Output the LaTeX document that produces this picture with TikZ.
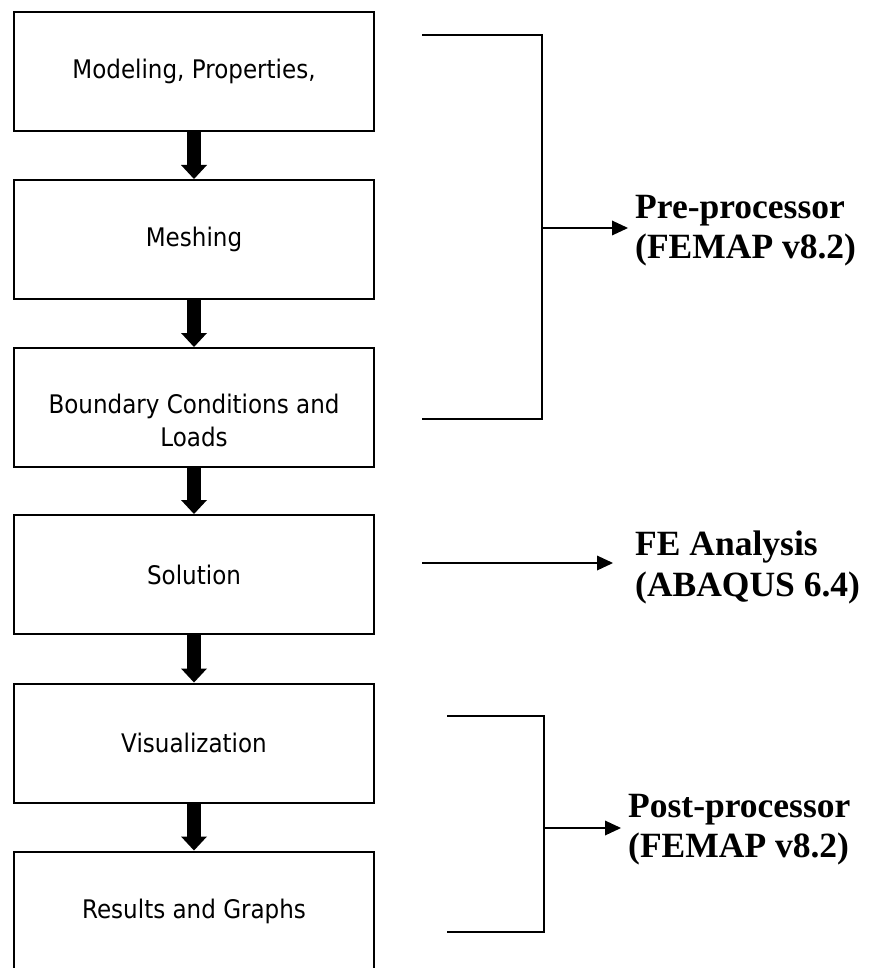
\documentclass[tikz,border=0pt]{standalone}
\usepackage{fontspec}
\setmainfont{Liberation Serif}
\newfontfamily\boxfont{DejaVu Sans}[FakeStretch=0.9]
\usetikzlibrary{arrows.meta}
\begin{document}
\begin{tikzpicture}[x=1pt,y=-1pt,
  stepbox/.style={draw, line width=2pt, minimum width=360pt, minimum height=119pt,
    inner sep=0pt, font=\boxfont\fontsize{25.6}{33}\selectfont, align=center},
  boxtext/.style={inner sep=0pt, font=\boxfont\fontsize{25.6}{33}\selectfont, align=center},
  fat/.style={line width=14pt, -{Triangle[length=14pt,width=26pt,line width=0pt]}},
  thinline/.style={line width=1.5pt},
  thinarrow/.style={line width=1.5pt, -{Triangle[length=16pt,width=15pt,line width=0pt]}},
  sidetext/.style={font=\bfseries\fontsize{35.5}{40.3}\selectfont, align=left,
    anchor=north west, inner xsep=7pt, inner ysep=0pt}]
\useasboundingbox (0,0) rectangle (868,968);
\clip (0,0) rectangle (868,968);

% boxes
\node[stepbox] (b1) at (194,71.5) {Modeling, Properties,};
\node[stepbox] (b2) at (194,239.5) {Meshing};
\node[stepbox] (b3) at (194,407.5) {};
\node[boxtext, anchor=north] (t3) at (194,393.5) {Boundary Conditions and\\Loads};
\node[stepbox] (b4) at (194,574.5) {Solution};
\node[stepbox] (b5) at (194,743) {Visualization};
\node[stepbox] (b6) at (194,911) {Results and Graphs};

% fat arrows
\draw[fat] (b1.south) -- (b2.north);
\draw[fat] (b2.south) -- (b3.north);
\draw[fat] (b3.south) -- (b4.north);
\draw[fat] (b4.south) -- (b5.north);
\draw[fat] (b5.south) -- (b6.north);

% side labels
\node[sidetext] (pre) at (628,195) {Pre-processor\\(FEMAP v8.2)};
\node[sidetext] (fe) at (628,531) {FE Analysis\\(ABAQUS 6.4)};
\node[sidetext] (post) at (621,794) {Post-processor\\(FEMAP v8.2)};

% bracket 1
\coordinate (p1) at (422,35);
\coordinate (p2) at (422,419);
\coordinate (pm) at (542,228);
\draw[thinline] (p1) -| (pm) |- (p2);
\draw[thinarrow] (pm) -- (pm -| pre.west);

% FE arrow
\coordinate (fs) at (422,563);
\draw[thinarrow, shorten >=15pt] (fs) -- (fs -| fe.west);

% bracket 3
\coordinate (q1) at (447,716);
\coordinate (q2) at (447,932);
\coordinate (qm) at (544,828);
\draw[thinline] (q1) -| (qm) |- (q2);
\draw[thinarrow] (qm) -- (qm -| post.west);
\end{tikzpicture}
\end{document}
